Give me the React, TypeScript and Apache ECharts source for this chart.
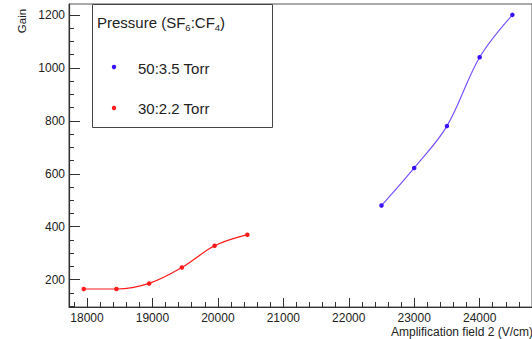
import React, { useEffect, useRef } from "react";
import * as echarts from "echarts";

const blueName = "50:3.5 Torr";
const redName = "30:2.2 Torr";
const blueX = [22500, 23000, 23500, 24000, 24500];
const blueY = [480, 622, 780, 1040, 1200];
const redX = [17950, 18450, 18950, 19450, 19950, 20450];
const redY = [165, 165, 186, 246, 328, 370];
const xMajor = [18000, 19000, 20000, 21000, 22000, 23000, 24000];
const xMinor = [17800, 18000, 18200, 18400, 18600, 18800, 19000, 19200, 19400, 19600, 19800, 20000, 20200, 20400, 20600, 20800, 21000, 21200, 21400, 21600, 21800, 22000, 22200, 22400, 22600, 22800, 23000, 23200, 23400, 23600, 23800, 24000, 24200, 24400, 24600];
const yMajor = [200, 400, 600, 800, 1000, 1200];
const yMinor = [100, 150, 200, 250, 300, 350, 400, 450, 500, 550, 600, 650, 700, 750, 800, 850, 900, 950, 1000, 1050, 1100, 1150, 1200];
const xTitle = "Amplification field 2 (V/cm)";
const yTitle = "Gain";
const legendTitle = "Pressure (SF{s|6}:CF{s|4})";

const X_MIN = 17725;
const X_MAX = 24800;
const Y_MIN = 97;
const Y_MAX = 1241;

const BLUE_LINE = "#7a52ff";
const BLUE_MARK = "#3a10ff";
const RED = "#ff1a1a";
const FONT = "Liberation Sans, Arial, Helvetica, sans-serif";

export default function App() {
  const ref = useRef<HTMLDivElement>(null);
  useEffect(() => {
    if (!ref.current) return;
    const chart = echarts.init(ref.current, undefined, { renderer: "svg" });
    const axisLabel = { color: "#222", fontSize: 12, fontFamily: FONT, formatter: (v: number) => String(v) };
    const xCommon = { type: "value", min: X_MIN, max: X_MAX, position: "bottom", splitLine: { show: false } };
    const yCommon = { type: "value", min: Y_MIN, max: Y_MAX, position: "left", offset: 0, splitLine: { show: false } };
    chart.setOption({
      animation: false,
      backgroundColor: "#fff",
      grid: { left: 69, top: 4, width: 470, bottom: 32, show: true, borderColor: "#555", borderWidth: 1, backgroundColor: "transparent" },
      xAxis: [
        {
          ...xCommon,
          axisLine: { show: true, lineStyle: { color: "#333", width: 1.2 } },
          axisTick: { show: true, inside: true, length: 9, customValues: xMajor, lineStyle: { color: "#333", width: 1 } },
          axisLabel: { ...axisLabel, margin: 5, customValues: xMajor },
        },
        {
          ...xCommon,
          axisLine: { show: false },
          axisTick: { show: true, inside: true, length: 5, customValues: xMinor, lineStyle: { color: "#333", width: 1 } },
          axisLabel: { show: false },
        },
      ],
      yAxis: [
        {
          ...yCommon,
          axisLine: { show: true, lineStyle: { color: "#333", width: 1.2 } },
          axisTick: { show: true, inside: true, length: 11, customValues: yMajor, lineStyle: { color: "#333", width: 1 } },
          axisLabel: { ...axisLabel, margin: 4, customValues: yMajor },
        },
        {
          ...yCommon,
          axisLine: { show: false },
          axisTick: { show: true, inside: true, length: 5, customValues: yMinor, lineStyle: { color: "#333", width: 1 } },
          axisLabel: { show: false },
        },
      ],
      series: [
        {
          name: blueName,
          type: "line",
          xAxisIndex: 0,
          yAxisIndex: 0,
          data: blueX.map((x, i) => [x, blueY[i]]),
          smooth: 0.35,
          symbol: "circle",
          symbolSize: 4.5,
          itemStyle: { color: BLUE_MARK },
          lineStyle: { color: BLUE_LINE, width: 1.2 },
        },
        {
          name: redName,
          type: "line",
          xAxisIndex: 0,
          yAxisIndex: 0,
          data: redX.map((x, i) => [x, redY[i]]),
          smooth: 0.35,
          symbol: "circle",
          symbolSize: 4.5,
          itemStyle: { color: RED },
          lineStyle: { color: RED, width: 1.2 },
        },
      ],
      graphic: [
        {
          type: "text",
          x: 533,
          y: 332,
          style: { text: xTitle, fill: "#222", font: `12px ${FONT}`, align: "right", verticalAlign: "middle" },
        },
        {
          type: "text",
          x: 22,
          y: 21,
          rotation: Math.PI / 2,
          style: { text: yTitle, fill: "#222", font: `11.5px ${FONT}`, align: "center", verticalAlign: "middle" },
        },
        {
          type: "rect",
          shape: { x: 92.5, y: 4.5, width: 180, height: 123 },
          style: { fill: "#fff", stroke: "#444", lineWidth: 1 },
          z: 10,
        },
        {
          type: "text",
          x: 97,
          y: 22,
          z: 11,
          style: {
            text: legendTitle,
            fill: "#222",
            fontSize: 15,
            fontFamily: FONT,
            verticalAlign: "middle",
            rich: { s: { fontSize: 9.5, fontFamily: FONT, fill: "#222", padding: [10, 0, 0, 0] } },
          },
        },
        { type: "circle", shape: { cx: 114, cy: 67, r: 2.2 }, style: { fill: BLUE_MARK }, z: 11 },
        {
          type: "text",
          x: 138,
          y: 68,
          z: 11,
          style: { text: blueName, fill: "#222", font: `15px ${FONT}`, verticalAlign: "middle" },
        },
        { type: "circle", shape: { cx: 114, cy: 108, r: 2.2 }, style: { fill: RED }, z: 11 },
        {
          type: "text",
          x: 138,
          y: 108,
          z: 11,
          style: { text: redName, fill: "#222", font: `15px ${FONT}`, verticalAlign: "middle" },
        },
      ],
    });
    return () => chart.dispose();
  }, []);
  return <div ref={ref} style={{ position: "fixed", left: 0, top: 0, width: 532, height: 339 }} />;
}
